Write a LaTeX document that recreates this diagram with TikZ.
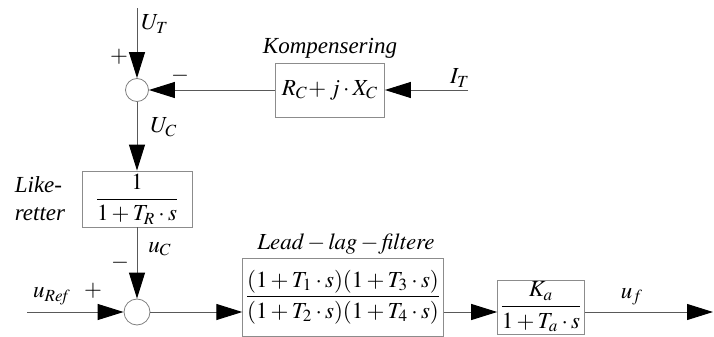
\documentclass[tikz,border=0pt]{standalone}
\usepackage{amsmath}
\usepackage{mathptmx}
\usepackage{fontspec}
\setmainfont{Liberation Serif}
\usepackage{tikz}
\usetikzlibrary{arrows.meta,positioning,calc}

\begin{document}
\begin{tikzpicture}[x=0.5pt,y=-0.5pt,font=\fontsize{11.5}{13}\selectfont,
  >={Triangle[length=13pt,width=8pt,color=black]},
  sm/.style={circle,draw=black!50,minimum size=11.5pt,inner sep=0pt},
  blk/.style={draw=black!45,line width=0.4pt,inner sep=1pt},
  ar/.style={->,draw=black!65,line width=0.5pt},
  lab/.style={inner sep=1pt}]
\useasboundingbox (0,0) rectangle (714,337);
% summasjonspunkter
\node[sm] (s1) at (137,90) {};
\node[sm,minimum size=13pt] (s2) at (137,312) {};
% blokker
\node[blk,minimum width=54.5pt,minimum height=27pt] (kp) at (330,90) {$R_C\!+j\cdot X_C$};
\node[lab,above=1pt of kp] {\textit{Kompensering}};
\node[blk,minimum width=55pt,minimum height=28pt] (lr) at (137,199) {$\dfrac{1}{1+T_R\cdot s}$};
\node[lab,align=left] at (40,199) {\textit{Like-}\\[1pt]\textit{retter}};
\node[blk,minimum width=95pt,minimum height=39pt] (ll) at (343,297)
  {\raisebox{-7.5pt}{$\dfrac{(1+T_1\cdot s)(1+T_3\cdot s)}{(1+T_2\cdot s)(1+T_4\cdot s)}$}};
\node[lab] at (346,244) {$\mathit{Lead}-\mathit{lag}-\mathit{filtere}$};
\node[blk,minimum width=41pt,minimum height=27pt] (ka) at (541,307)
  {\raisebox{-2.5pt}{$\dfrac{K_a}{1+T_a\cdot s}$}};
% inn- og utganger
\coordinate (ut) at (137,8);
\coordinate (it) at (468,90);
\coordinate (ur) at (27,312);
\coordinate (uf) at (713,312);
\draw[ar] (ut) -- (s1);
\draw[ar] (it) -- (kp);
\draw[ar] (kp) -- (s1);
\draw[ar] (s1) -- (lr);
\draw[ar] (lr) -- (s2);
\draw[ar] (ur) -- (s2);
\draw[ar] (s2) -- (s2 -| ll.west);
\draw[ar] (ll.east |- s2) -- (ka.west |- s2);
\draw[ar] (ka.east |- s2) -- (uf);
% etiketter
\node[lab] at (155,24) {$U_T$};
\node[lab] at (119,57) {$+$};
\node[lab] at (180,76) {$-$};
\node[lab] at (164,127) {$U_C$};
\node[lab] at (460,78) {$I_T$};
\node[lab] at (160,249) {$u_C$};
\node[lab] at (120,263) {$-$};
\node[lab] at (52,296) {$u_{\mathit{Ref}}$};
\node[lab] at (93,291) {$+$};
\node[lab] at (632,297) {$u_f$};
\end{tikzpicture}
\end{document}
